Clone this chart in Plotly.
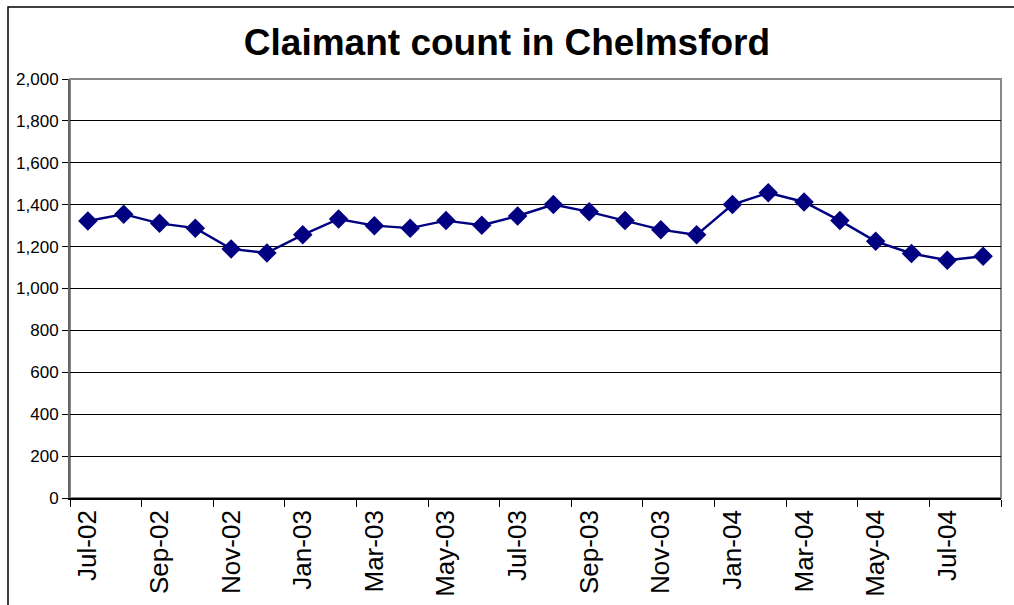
import plotly.graph_objects as go

months = ["Jul-02", "Aug-02", "Sep-02", "Oct-02", "Nov-02", "Dec-02",
          "Jan-03", "Feb-03", "Mar-03", "Apr-03", "May-03", "Jun-03",
          "Jul-03", "Aug-03", "Sep-03", "Oct-03", "Nov-03", "Dec-03",
          "Jan-04", "Feb-04", "Mar-04", "Apr-04", "May-04", "Jun-04",
          "Jul-04", "Aug-04"]
claimants = [1322, 1355, 1311, 1288, 1189, 1170,
             1256, 1332, 1300, 1288, 1324, 1302,
             1346, 1401, 1366, 1324, 1281, 1256,
             1401, 1457, 1413, 1324, 1225, 1167,
             1135, 1154]
y_ticks = list(range(0, 2001, 200))
title_text = "Claimant count in Chelmsford"

FONT = "Arial, 'Liberation Sans', sans-serif"
xpos = list(range(len(months)))
label_pos = xpos[::2]
label_text = months[::2]
boundary_ticks = [p - 0.5 for p in label_pos] + [len(months) - 0.5]

fig = go.Figure()
fig.add_trace(go.Scatter(
    x=xpos, y=claimants, mode="lines+markers",
    line=dict(color="#000080", width=2.4),
    marker=dict(symbol="diamond", size=15, color="#000080",
                line=dict(color="#000080", width=0)),
    hovertext=months, showlegend=False,
))

fig.update_layout(
    width=1014, height=605,
    paper_bgcolor="white", plot_bgcolor="white",
    margin=dict(l=70, r=13, t=79, b=107, autoexpand=False),
    font=dict(family=FONT, color="black"),
    title=dict(text="<b>" + title_text + "</b>", x=0.5, xanchor="center",
               y=1 - 42 / 605, yanchor="middle",
               font=dict(family=FONT, size=37, color="black")),
    xaxis=dict(
        range=[-0.5, len(months) - 0.5], automargin=False,
        tickmode="array", tickvals=label_pos, ticktext=label_text,
        tickangle=-90, ticks="", showgrid=False, zeroline=False,
        tickfont=dict(family=FONT, size=26, color="black"),
        showline=True, linecolor="black", linewidth=1.5,
        minor=dict(tickmode="array", tickvals=boundary_ticks,
                   ticks="outside", ticklen=7, tickcolor="black",
                   tickwidth=1, showgrid=False),
    ),
    yaxis=dict(
        range=[0, 2000], automargin=False,
        tickmode="array", tickvals=y_ticks,
        tickformat=",", ticks="outside", ticklen=6, tickcolor="black",
        tickfont=dict(family=FONT, size=17, color="black"),
        showgrid=True, gridcolor="black", gridwidth=1,
        zeroline=False, showline=True, linecolor="#666666", linewidth=2,
    ),
    shapes=[
        dict(type="rect", xref="paper", yref="paper", x0=0, x1=1, y0=0, y1=1,
             line=dict(color="#888888", width=2), layer="below"),
        dict(type="rect", xref="paper", yref="paper",
             x0=(8 - 70) / 931, x1=(1030 - 70) / 931,
             y0=(498 - 620) / 419, y1=(498 - 7) / 419,
             line=dict(color="black", width=1.5), layer="below"),
    ],
)

fig.write_html("out.html", config={"displayModeBar": False},
               post_script="document.body.style.margin='0px';document.body.style.overflow='hidden';")
